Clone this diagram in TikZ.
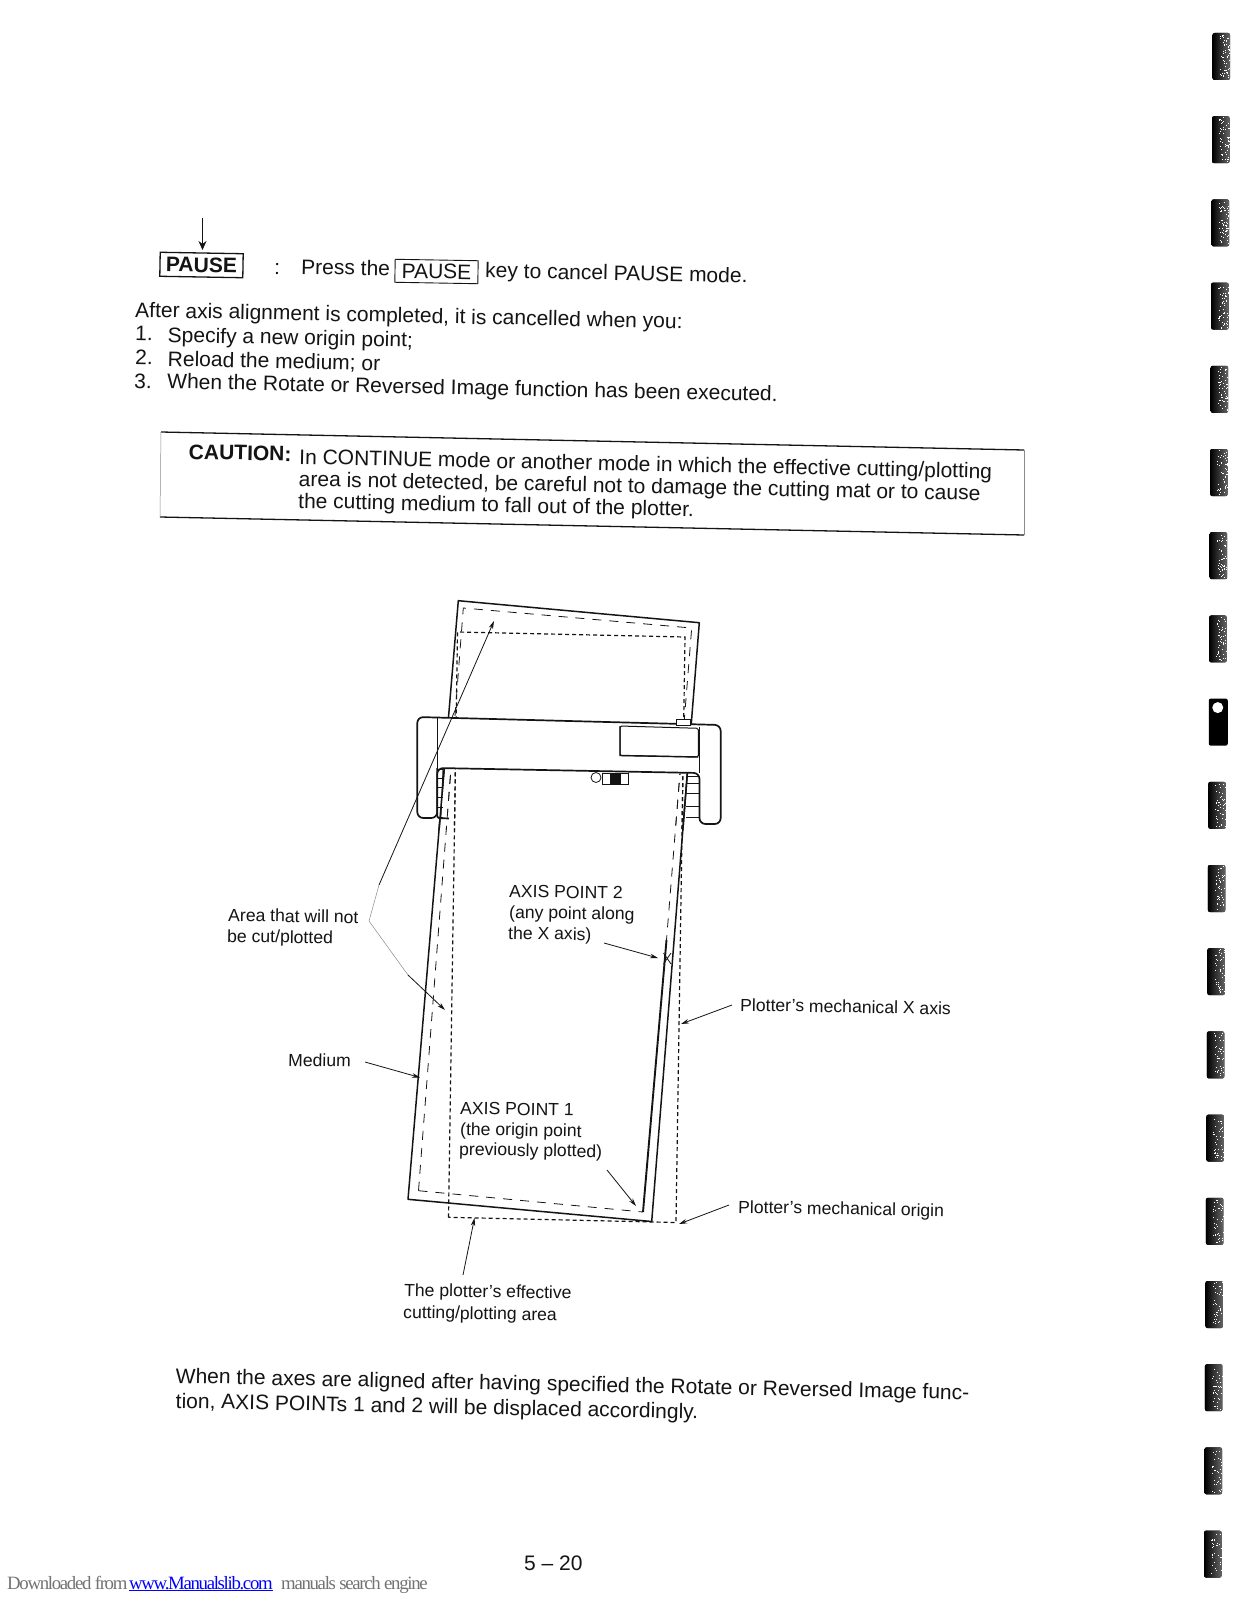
\documentclass[tikz,border=0pt]{standalone}
\usepackage{fontspec}
\setmainfont{Liberation Sans}
\newfontfamily\footfont[LetterSpace=-7]{Liberation Serif}
\usetikzlibrary{arrows.meta}
\definecolor{ink}{gray}{0.08}
\tikzset{
 body/.style={anchor=base west,inner sep=0pt,text=ink,rotate=-1.2,font=\fontsize{21}{21}\selectfont},
 lab/.style={anchor=base west,inner sep=0pt,text=ink,rotate=-1,font=\fontsize{17.6}{17}\selectfont},
 keybox/.style={draw=ink,inner sep=2.5pt,text=ink,rotate=-1},
 solidline/.style={draw=ink,line width=1.5pt,line join=round},
 thinline/.style={draw=ink,line width=0.8pt},
 medash/.style={draw=ink,line width=0.8pt,dash pattern=on 9pt off 8pt},
 effdash/.style={draw=ink,line width=1.2pt,dash pattern=on 4pt off 3pt},
 leader/.style={draw=ink,line width=0.8pt,-{Stealth[length=8pt,width=4.5pt]}},
 faint/.style={draw=black!45,line width=0.5pt},
 plotbody/.style={draw=ink,line width=1.7pt,fill=white,line join=round},
 bindmark/.style={rounded corners=2pt},
 footgray/.style={anchor=base west,inner sep=0pt,text=black!55,font=\fontsize{18.8}{20}\footfont},
}
\newcommand{\mediumlines}{%
 \draw[solidline] (mTL)--(mTR)--(mBR)--(mBL)--cycle;
 \draw[medash] (iBL)--(iTL)--(iTR)--(iMR);
 \draw[medash] (iBL)--(iBR);
 \draw[effdash] (eBL)--(eTL)--(eTR)--(eBR)--cycle;
}
\begin{document}
\begin{tikzpicture}[x=1pt,y=-1pt]
\useasboundingbox (0,0) rectangle (1237,1600);
\fill[white] (0,0) rectangle (1237,1600);
% --- coordinates of the diagram
\coordinate (mTL) at (458.3,600.7); \coordinate (mTR) at (699.3,622.7);
\coordinate (mBR) at (651.7,1221.5); \coordinate (mBL) at (408,1199.3);
\coordinate (iTL) at (463.3,608); \coordinate (iTR) at (691.7,628);
\coordinate (iMR) at (666.5,940); \coordinate (iBR) at (643,1212);
\coordinate (iBL) at (418.5,1190.7); \coordinate (iBE) at (640,1212);
\coordinate (eTL) at (457.5,632); \coordinate (eTR) at (685,637);
\coordinate (eBR) at (676,1222.5); \coordinate (eBL) at (448.5,1217.3);
% --- upper text
\coordinate (flowtop) at (202.5,218); \coordinate (flowtip) at (202.5,250);
\node[keybox,line width=1.3pt,font=\fontsize{21}{21}\selectfont\bfseries,minimum width=83pt,minimum height=24pt,inner sep=0pt] (pausekey) at (201.5,265) {PAUSE};
\draw[draw=ink,line width=0.8pt,-{Stealth[length=9pt,width=8pt]}] (flowtop)--(flowtip);
\node[body] (colon) at (274,274) {:};
\node[body] (press) at (301,274) {Press the};
\node[keybox,line width=0.9pt,font=\fontsize{21}{21}\selectfont,minimum width=83pt,minimum height=23pt,inner sep=0pt] (pausein) at (436.5,271.5) {PAUSE};
\node[body] (keyto) at (485,277.5) {key to cancel PAUSE mode.};
\node[body] (after) at (135,317) {After axis alignment is completed, it is cancelled when you:};
\node[body] (n1) at (135,340) {1.};
\node[body] (s1) at (167.5,342) {Specify a new origin point;};
\node[body] (n2) at (135,364) {2.};
\node[body] (s2) at (167.5,366) {Reload the medium; or};
\node[body] (n3) at (134,388) {3.};
\node[body] (s3) at (167,388.5) {When the Rotate or Reversed Image function has been executed.};
% --- caution box
\coordinate (cTL) at (161,432); \coordinate (cTR) at (1024,450);
\coordinate (cBR) at (1024,535); \coordinate (cBL) at (160,517);
\draw[draw=ink,line width=1.3pt] (cTL)--(cTR);
\draw[draw=ink,line width=1.3pt] (cBL)--(cBR);
\draw[faint] (cTL)--(cBL);
\draw[faint] (cTR)--(cBR);
\node[body,font=\fontsize{21}{21}\selectfont\bfseries] (caution) at (188.5,459) {CAUTION:};
\node[body] (c1) at (299,464) {In CONTINUE mode or another mode in which the effective cutting/plotting};
\node[body] (c2) at (298.5,486) {area is not detected, be careful not to damage the cutting mat or to cause};
\node[body] (c3) at (298,508) {the cutting medium to fall out of the plotter.};
% --- medium and the areas
\mediumlines
% --- plotter
\draw[plotbody,rounded corners=6pt] (417.3,717)--(720.7,725)--(720.7,824)--(699.5,824)--(699.5,773)--(437.3,768)--(437.3,818)--(417.3,818)--cycle;
\draw[plotbody,rounded corners=2pt] (437.3,768)--(437.3,818)--(449,818.5);
\draw[thinline] (437.3,718)--(437.3,768);
\draw[thinline] (699.5,727)--(699.5,773);
\draw[draw=ink,line width=1pt,fill=white,rounded corners=1.5pt] (620,726)--(698.3,728.3)--(698.3,757)--(620,755.5)--cycle;
\draw[draw=ink,line width=1.4pt] (620,726)--(620,755.5)--(698.3,757);
\draw[thinline,fill=white] (676.7,719.3) rectangle (690,725.5);
\draw[thinline,fill=white] (596,777.5) circle (5);
\draw[thinline,fill=white] (602.7,773) rectangle (628.3,784);
\fill[ink] (610,773) rectangle (620.7,784);
% rollers
\foreach \yy in {769,778,787,797,807,817} \draw[thinline] (437.3,\yy)--(443,\yy);
\draw[thinline] (443,768)--(441,817);
\foreach \yy in {776,783,793,806,817} \draw[thinline] (686,\yy)--(699.5,\yy);
% medium in front of the plotter, below the bar
\begin{scope}
 \clip (430,769)--(699.5,774)--(699.5,830)--(430,830)--cycle;
 \mediumlines
\end{scope}
% --- thick X axis line and marks
\draw[draw=ink,line width=1.9pt] (iMR)--(iBR);
\coordinate (x1) at (663.5,953); \coordinate (x2) at (671,964);
\coordinate (x3) at (671,953); \coordinate (x4) at (663.5,964);
\draw[thinline] (x1)--(x2) (x3)--(x4);
% --- labels
\node[lab] (area1) at (228,921) {Area that will not};
\node[lab] (area2) at (227,942) {be cut/plotted};
\node[lab] (ap2a) at (509,897) {AXIS POINT 2};
\node[lab] (ap2b) at (509,918) {(any point along};
\node[lab] (ap2c) at (508,939) {the X axis)};
\node[lab] (medlab) at (288,1066) {Medium};
\node[lab] (ap1a) at (460,1114) {AXIS POINT 1};
\node[lab] (ap1b) at (460,1135) {(the origin point};
\node[lab] (ap1c) at (459,1155) {previously plotted)};
\node[lab] (mxlab) at (740,1011) {Plotter's mechanical X axis};
\node[lab] (molab) at (738,1213) {Plotter's mechanical origin};
\node[lab] (ef1) at (404,1296) {The plotter's effective};
\node[lab] (ef2) at (403,1318) {cutting/plotting area};
% --- leaders
\coordinate (aFork) at (369,921); \coordinate (aTurn) at (379,885);
\coordinate (aTip1) at (494,621); \coordinate (aTip2) at (445,1010);
\coordinate (aMid) at (408,975);
\draw[leader] (aTurn)--(aTip1);
\draw[faint] (aFork)--(aTurn);
\draw[faint] (aFork)--(aMid);
\draw[leader] (aMid)--(aTip2);
\coordinate (medTip) at (420,1077.5); \coordinate (medTail) at (365,1062);
\draw[leader] (medTail)--(medTip);
\coordinate (ap2Tail) at (604,943); \coordinate (ap2Tip) at (658,958);
\draw[leader] (ap2Tail)--(ap2Tip);
\coordinate (ap1Tail) at (607,1170); \coordinate (ap1Tip) at (636,1206);
\draw[leader] (ap1Tail)--(ap1Tip);
\coordinate (mxTail) at (732,1005); \coordinate (mxTip) at (681,1024);
\draw[leader] (mxTail)--(mxTip);
\coordinate (moTail) at (729,1205); \coordinate (moTip) at (679,1224);
\draw[leader] (moTail)--(moTip);
\coordinate (efTail) at (463,1275); \coordinate (efTip) at (474.5,1218);
\draw[leader] (efTail)--(efTip);
% --- body text below
\node[body] (b1) at (175.5,1383) {When the axes are aligned after having specified the Rotate or Reversed Image func-};
\node[body] (b2) at (175.5,1408) {tion, AXIS POINTs 1 and 2 will be displaced accordingly.};
\node[anchor=base west,inner sep=0pt,text=ink,font=\fontsize{21}{21}\selectfont] (pageno) at (524,1570) {5 -- 20};
% --- footer
\node[footgray] (foot1) at (7,1589) {Downloaded from};
\node[footgray,text=blue] (foot2) at (129,1589) {\underline{www.Manualslib.com}};
\node[footgray] (foot3) at (281,1589) {manuals search engine};
% --- binding marks
\pgfmathsetseed{4711}
\foreach \i in {0,...,18}{
  \pgfmathsetmacro{\mx}{1212.5-0.47*\i}
  \pgfmathsetmacro{\my}{33+83.2*\i}
  \pgfmathtruncatemacro{\dots}{int(60-1.5*\i)}
  \ifnum\i=8
   \fill[black,bindmark] (\mx,\my) rectangle +(19,47);
   \fill[white] (\mx+9,\my+9) circle (5.5);
  \else
   \fill[bindmark,left color=black,right color=black!60] (\mx,\my) rectangle +(17.5,47);
   \foreach \k in {1,...,\dots}{
     \pgfmathsetmacro{\dx}{\mx+7+10*rnd}
     \pgfmathsetmacro{\dy}{\my+1+44*rnd}
     \fill[white] (\dx,\dy) rectangle +(1,1);
   }
  \fi
}
\end{tikzpicture}
\end{document}
